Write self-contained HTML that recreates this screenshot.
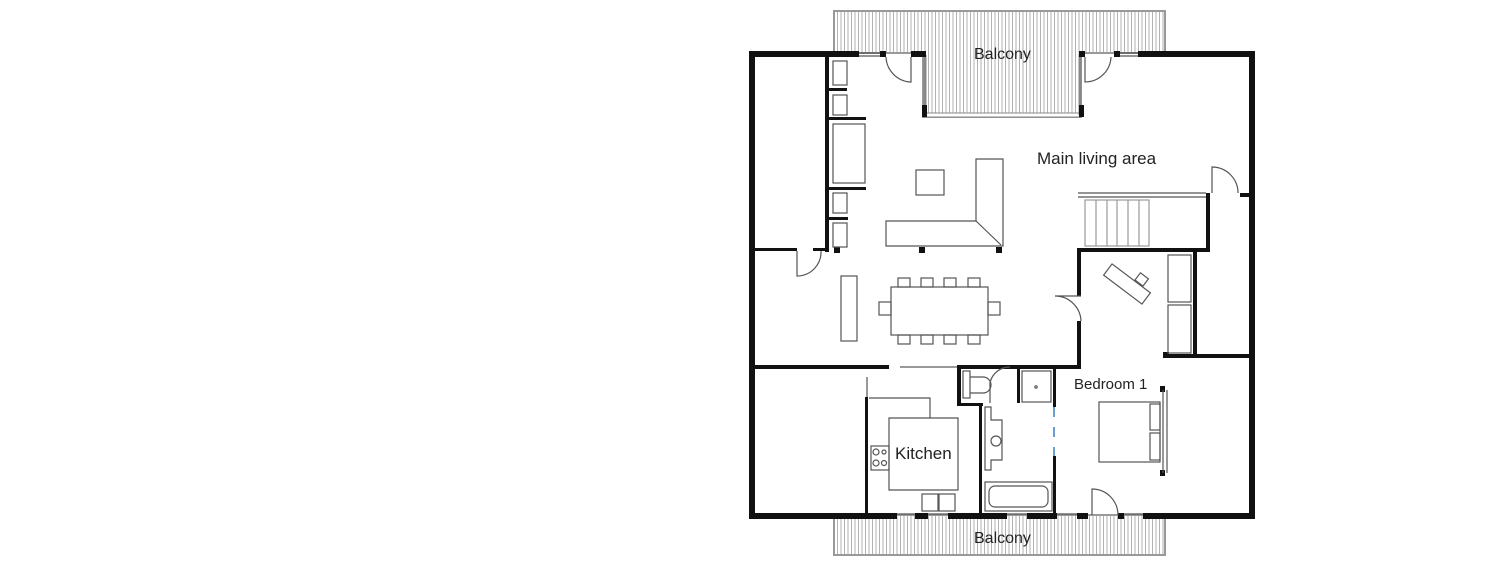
<!DOCTYPE html>
<html><head><meta charset="utf-8"><style>
html,body{margin:0;padding:0;background:#fff;width:1500px;height:562px;overflow:hidden}
svg{display:block}
text{font-family:"Liberation Sans",sans-serif;fill:#222}
</style></head><body>
<svg width="1500" height="562" viewBox="0 0 1500 562" xmlns="http://www.w3.org/2000/svg">
<defs>
<pattern id="hatch" width="3.5" height="10" patternUnits="userSpaceOnUse">
<rect width="3.5" height="10" fill="#fff"/><line x1="1" y1="0" x2="1" y2="10" stroke="#aaa" stroke-width="0.9"/>
</pattern>
</defs>
<path d="M834,11 H1165 V53 H1081 V117 H923 V53 H834 Z" fill="url(#hatch)" stroke="#999" stroke-width="2"/>
<rect x="834" y="515" width="331" height="40" fill="url(#hatch)" stroke="#999" stroke-width="2"/>
<rect x="923" y="113" width="158" height="4" fill="#fff" stroke="#888" stroke-width="1"/>
<line x1="925" y1="55" x2="925" y2="115" stroke="#888" stroke-width="3"/>
<line x1="1080" y1="55" x2="1080" y2="115" stroke="#888" stroke-width="3"/>
<rect x="922" y="105" width="5" height="12" fill="#111"/>
<rect x="1079" y="105" width="5" height="12" fill="#111"/>
<g fill="#111">
<rect x="749" y="51" width="110" height="6"/>
<rect x="880" y="51" width="6" height="6"/>
<rect x="911" y="51" width="15" height="6"/>
<rect x="1079" y="51" width="6" height="6"/>
<rect x="1114" y="51" width="6" height="6"/>
<rect x="1138" y="51" width="117" height="6"/>
<rect x="749" y="51" width="6" height="468"/>
<rect x="1249" y="51" width="6" height="468"/>
<rect x="749" y="513" width="148" height="6"/>
<rect x="915" y="513" width="13" height="6"/>
<rect x="948" y="513" width="59" height="6"/>
<rect x="1027" y="513" width="30" height="6"/>
<rect x="1077" y="513" width="11" height="6"/>
<rect x="1118" y="513" width="6" height="6"/>
<rect x="1143" y="513" width="112" height="6"/>
<rect x="825" y="55" width="4" height="197"/>
<rect x="827" y="88" width="20" height="3"/>
<rect x="827" y="117" width="39" height="3"/>
<rect x="827" y="187" width="39" height="3"/>
<rect x="827" y="217" width="21" height="3"/>
<rect x="834" y="247" width="6" height="6"/>
<rect x="919" y="247" width="6" height="6"/>
<rect x="996" y="247" width="6" height="6"/>
<rect x="751" y="248" width="46" height="3"/>
<rect x="813" y="248" width="14" height="3"/>
<rect x="751" y="365" width="138" height="4"/>
<rect x="865" y="397" width="3" height="118"/>
<rect x="957" y="365" width="124" height="4"/>
<rect x="957" y="365" width="4" height="40"/>
<rect x="957" y="403" width="26" height="3"/>
<rect x="979" y="403" width="3" height="112"/>
<rect x="1017" y="367" width="3" height="36"/>
<rect x="1053" y="367" width="3" height="40"/>
<rect x="1053" y="456" width="3" height="59"/>
<rect x="1077" y="250" width="4" height="46"/>
<rect x="1077" y="321" width="4" height="48"/>
<rect x="1077" y="248" width="133" height="4"/>
<rect x="1206" y="193" width="4" height="58"/>
<rect x="1240" y="193" width="12" height="4"/>
<rect x="1193" y="250" width="4" height="107"/>
<rect x="1163" y="354" width="90" height="4"/>
<rect x="1163" y="352" width="6" height="6"/>
<rect x="1160" y="386" width="5" height="6"/>
<rect x="1160" y="470" width="5" height="6"/>
</g>
<g fill="none" stroke="#555" stroke-width="1.2">
<line x1="859" y1="53" x2="880" y2="53"/><line x1="859" y1="56" x2="880" y2="56"/>
<line x1="1120" y1="53" x2="1138" y2="53"/><line x1="1120" y1="56" x2="1138" y2="56"/>
<line x1="897" y1="514" x2="915" y2="514"/><line x1="928" y1="514" x2="948" y2="514"/>
<line x1="1007" y1="514" x2="1027" y2="514"/><line x1="1057" y1="514" x2="1077" y2="514"/><line x1="1124" y1="514" x2="1143" y2="514"/>
<path d="M911,57 V82 A26,26 0 0 1 886,57"/>
<path d="M1085,57 V82 A26,26 0 0 0 1111,57"/>
<path d="M797,251 V276 A24,24 0 0 0 821,251"/>
<path d="M1212,193 V167 A26,26 0 0 1 1238,193"/>
<path d="M1081,296 H1055 A26,26 0 0 1 1081,321"/>
<path d="M1092,515 V489 A26,26 0 0 1 1118,515"/>
<path d="M990,403 V383 A20,20 0 0 1 1010,367"/>
<line x1="1167" y1="390" x2="1167" y2="473"/><line x1="1163" y1="390" x2="1163" y2="473"/>
<line x1="1078" y1="193" x2="1206" y2="193"/><line x1="1078" y1="197" x2="1206" y2="197"/>
<line x1="900" y1="367" x2="957" y2="367" stroke="#999" stroke-width="2"/>
<line x1="867" y1="377" x2="867" y2="397" stroke="#999" stroke-width="2"/>
<rect x="833" y="61" width="14" height="24"/>
<rect x="833" y="95" width="14" height="20"/>
<rect x="833" y="124" width="32" height="59"/>
<rect x="833" y="193" width="14" height="20"/>
<rect x="833" y="223" width="14" height="24"/>
<rect x="916" y="170" width="28" height="25"/>
<path d="M886,221 H976 V159 H1003 V246 H886 Z"/>
<path d="M976,221 L1001,245"/>
<rect x="841" y="276" width="16" height="65"/>
<rect x="891" y="287" width="97" height="48"/>
<rect x="898" y="278" width="12" height="9"/><rect x="921" y="278" width="12" height="9"/><rect x="944" y="278" width="12" height="9"/><rect x="968" y="278" width="12" height="9"/>
<rect x="898" y="335" width="12" height="9"/><rect x="921" y="335" width="12" height="9"/><rect x="944" y="335" width="12" height="9"/><rect x="968" y="335" width="12" height="9"/>
<rect x="879" y="302" width="12" height="13"/><rect x="988" y="302" width="12" height="13"/>
<rect x="1085" y="200" width="64" height="46" stroke="#999"/>
<line x1="1096" y1="200" x2="1096" y2="246" stroke="#999"/><line x1="1107" y1="200" x2="1107" y2="246" stroke="#999"/><line x1="1117" y1="200" x2="1117" y2="246" stroke="#999"/><line x1="1128" y1="200" x2="1128" y2="246" stroke="#999"/><line x1="1139" y1="200" x2="1139" y2="246" stroke="#999"/>
<g transform="translate(1127,284) rotate(37)"><rect x="-24" y="-7" width="48" height="14"/><rect x="4" y="-17" width="10" height="9"/></g>
<rect x="1168" y="255" width="23" height="47"/><rect x="1168" y="305" width="23" height="48"/>
<rect x="1099" y="402" width="61" height="60"/>
<rect x="1150" y="404" width="10" height="26"/><rect x="1150" y="433" width="10" height="27"/>
<rect x="963" y="371" width="7" height="27"/>
<path d="M970,377 H983 A8,8 0 0 1 983,393 H970"/>
<rect x="1022" y="371" width="29" height="31"/>
<circle cx="1036" cy="387" r="1.2"/>
<path d="M985,407 V470 H991 V460 H1002 V420 H991 V407 Z"/>
<circle cx="996" cy="441" r="5"/>
<rect x="985" y="482" width="67" height="29"/><rect x="989" y="486" width="59" height="21" rx="6"/>
<path d="M869,398 H930 V418 H889 V490 H958 V418 H930"/>
<rect x="871" y="446" width="18" height="24"/>
<circle cx="876" cy="452" r="3"/><circle cx="884" cy="452" r="2"/><circle cx="876" cy="463" r="3"/><circle cx="884" cy="463" r="2.5"/>
<rect x="922" y="494" width="16" height="17"/><rect x="939" y="494" width="16" height="17"/>
</g>
<line x1="1054" y1="407" x2="1054" y2="456" stroke="#3a7fc4" stroke-width="1.5" stroke-dasharray="10,10"/>
<text x="974" y="59" font-size="16">Balcony</text>
<text x="1037" y="164" font-size="17">Main living area</text>
<text x="895" y="459" font-size="17">Kitchen</text>
<text x="1074" y="389" font-size="15">Bedroom 1</text>
<text x="974" y="543" font-size="16">Balcony</text>
</svg>
</body></html>
